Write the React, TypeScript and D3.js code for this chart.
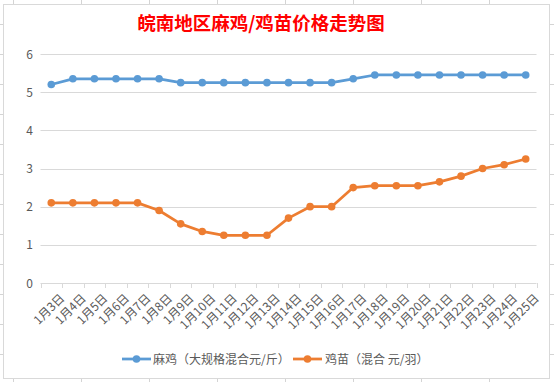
import React from "react";
import * as d3 from "d3";

const dates = ["1月3日","1月4日","1月5日","1月6日","1月7日","1月8日","1月9日","1月10日","1月11日","1月12日","1月13日","1月14日","1月15日","1月16日","1月17日","1月18日","1月19日","1月20日","1月21日","1月22日","1月23日","1月24日","1月25日"];
const majiValues = [5.2,5.35,5.35,5.35,5.35,5.35,5.25,5.25,5.25,5.25,5.25,5.25,5.25,5.25,5.35,5.45,5.45,5.45,5.45,5.45,5.45,5.45,5.45];
const jimiaoValues = [2.1,2.1,2.1,2.1,2.1,1.9,1.55,1.35,1.25,1.25,1.25,1.7,2.0,2.0,2.5,2.55,2.55,2.55,2.65,2.8,3.0,3.1,3.25];
const yTicks = [0,1,2,3,4,5,6];
const title = "皖南地区麻鸡/鸡苗价格走势图";
const seriesNames = ["麻鸡（大规格混合元/斤）", "鸡苗（混合 元/羽）"];
const colors = ["#5b9bd5", "#ed7d31"];

const W = 554, H = 382;
const plotLeft = 40.5, plotRight = 536.5, plotTop = 54, plotBottom = 283;

export default function App() {
  const x = d3.scaleBand<string>().domain(dates).range([plotLeft, plotRight]);
  const xc = (d: string) => (x(d) as number) + x.bandwidth() / 2;
  const y = d3.scaleLinear().domain([0, 6]).range([plotBottom, plotTop]);
  const line = d3.line<number>().x((_, i) => xc(dates[i])).y(v => y(v));
  const series = [majiValues, jimiaoValues];
  const font = "'Noto Sans CJK SC', 'Microsoft YaHei', sans-serif";

  const colLines = [13, 81, 149, 217, 285, 353, 421, 489];
  const rowLines = d3.range(24, 382, 30);

  return (
    <svg width={W} height={H} style={{ position: "fixed", left: 0, top: 0, background: "#fff" }} fontFamily={font}>
      {colLines.map(c => <line key={"c"+c} x1={c+0.5} x2={c+0.5} y1={0} y2={H} stroke="#d4d4d4" />)}
      {rowLines.map(r => <line key={"r"+r} x1={0} x2={W} y1={r+0.5} y2={r+0.5} stroke="#d4d4d4" />)}
      <rect x={3.5} y={4.5} width={546} height={374} fill="#fff" stroke="#d9d9d9" />
      <text x={261} y={30} textAnchor="middle" fill="#ff0000" fontSize={18.5} fontWeight="bold">{title}</text>
      {yTicks.map(t => (
        <g key={t}>
          <line x1={plotLeft} x2={plotRight} y1={Math.round(y(t)) + 0.5} y2={Math.round(y(t)) + 0.5} stroke="#d9d9d9" />
          <text x={33} y={y(t) + 4.5} textAnchor="end" fontSize={12} fill="#595959">{t}</text>
        </g>
      ))}
      {dates.map((d, i) => (
        <line key={"t"+i} x1={Math.round(x(d) as number)+0.5} x2={Math.round(x(d) as number)+0.5} y1={plotBottom} y2={plotBottom+5} stroke="#d9d9d9" />
      ))}
      <line x1={Math.round(plotRight)+0.5} x2={Math.round(plotRight)+0.5} y1={plotBottom} y2={plotBottom+5} stroke="#d9d9d9" />
      {dates.map(d => (
        <text key={d} transform={`translate(${xc(d) + 6},${plotBottom + 8}) rotate(-45)`} textAnchor="end" fontSize={12} fill="#595959" dominantBaseline="hanging">{d}</text>
      ))}
      {series.map((s, k) => (
        <g key={k}>
          <path d={line(s) as string} fill="none" stroke={colors[k]} strokeWidth={2.75} strokeLinejoin="round" />
          {s.map((v, i) => <circle key={i} cx={xc(dates[i])} cy={y(v)} r={3.8} fill={colors[k]} />)}
        </g>
      ))}
      {[{ x0: 122, tx: 153 }, { x0: 293, tx: 325 }].map((l, k) => (
        <g key={k}>
          <line x1={l.x0} x2={l.x0 + 29} y1={359} y2={359} stroke={colors[k]} strokeWidth={2.75} />
          <circle cx={l.x0 + 14.5} cy={359} r={3.8} fill={colors[k]} />
          <text x={l.tx} y={363.5} fontSize={12} fill="#595959">{seriesNames[k]}</text>
        </g>
      ))}
    </svg>
  );
}
